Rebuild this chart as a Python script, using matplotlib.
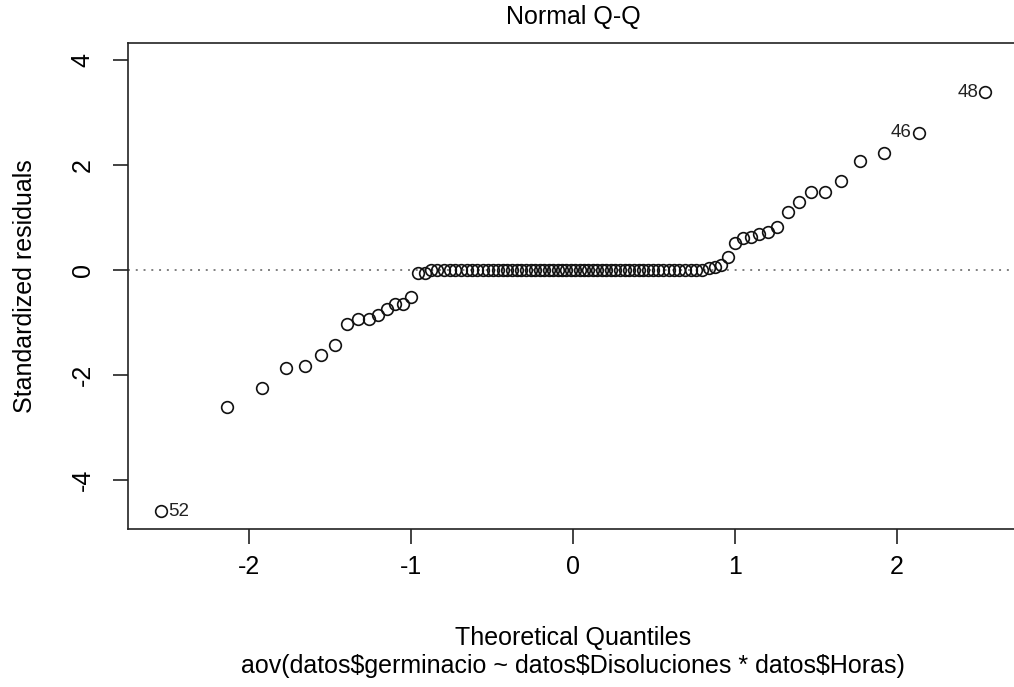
import matplotlib
matplotlib.use("Agg")
import matplotlib.pyplot as plt
import numpy as np
from statistics import NormalDist

plt.rcParams['font.family'] = ['Liberation Sans', 'DejaVu Sans']

# Sorted standardized residuals of the model (n = 92)
resid_low = [-4.60, -2.61, -2.26, -1.87, -1.83, -1.63, -1.43, -1.04, -0.94,
             -0.94, -0.85, -0.74, -0.65, -0.65, -0.51, -0.063, -0.063]
n_zero = 56
resid_high = [0.03, 0.06, 0.10, 0.25, 0.52, 0.62, 0.63, 0.69, 0.73, 0.83,
              1.10, 1.30, 1.49, 1.49, 1.70, 2.09, 2.23, 2.62, 3.39]
resid = np.array(resid_low + [0.0] * n_zero + resid_high)

# Observation ids flagged on the plot and their rank in the sorted residuals
flag_ids = ["52", "46", "48"]
flag_rank = [0, 90, 91]

xticks = [-2, -1, 0, 1, 2]
yticks = [-4, -2, 0, 2, 4]

n = len(resid)
nd = NormalDist()
theo = np.array([nd.inv_cdf((i + 0.5) / n) for i in range(n)])

W, H = 1014, 687
fig = plt.figure(figsize=(W / 100, H / 100), dpi=100)
ax = fig.add_axes([128 / W, 1 - 529 / H, (1018 - 128) / W, (529 - 43) / H])

# axis limits with 4% padding, upper limit extended for labels
xr = theo.max() - theo.min()
ax.set_xlim(theo.min() - 0.04 * xr, theo.max() + 0.04 * xr)
ylo, yhi = resid.min(), resid.max()
yhi = yhi + 0.075 * (yhi - ylo)
yr = yhi - ylo
ax.set_ylim(ylo - 0.04 * yr, yhi + 0.04 * yr)

ax.plot(theo, resid, linestyle='none', marker='o', markersize=8.4,
        markerfacecolor='none', markeredgecolor='#111111', markeredgewidth=1.2)

# reference line through the quartiles
q1, q3 = np.percentile(resid, [25, 75])
z1, z3 = nd.inv_cdf(0.25), nd.inv_cdf(0.75)
slope = (q3 - q1) / (z3 - z1)
icpt = q1 - slope * z1
xl = np.array(ax.get_xlim())
ax.plot(xl, icpt + slope * xl, color='#7f7f7f', linestyle=(0, (1, 3)),
        linewidth=1.4, zorder=0)

for lab, r in zip(flag_ids, flag_rank):
    x, y = theo[r], resid[r]
    if x < 0:
        ax.annotate(lab, (x, y), xytext=(5, 0), textcoords='offset points',
                    ha='left', va='center', fontsize=13.5, color='#222222')
    else:
        ax.annotate(lab, (x, y), xytext=(-5, 0), textcoords='offset points',
                    ha='right', va='center', fontsize=13.5, color='#222222')

ax.set_xticks(xticks)
ax.set_xticklabels([str(t) for t in xticks])
ax.set_yticks(yticks)
ax.set_yticklabels([str(t) for t in yticks], rotation=90, va='center')
ax.tick_params(axis='both', direction='out', length=11, width=1.2,
               labelsize=18, color='#222222')
ax.tick_params(axis='x', pad=8)
ax.tick_params(axis='y', pad=13)
for s in ax.spines.values():
    s.set_linewidth(1.2)
    s.set_color('#222222')
ax.spines['right'].set_visible(False)

cx = (128 + 1018) / 2 / W
fig.text(cx, 1 - 17 / H, "Normal Q-Q", ha='center', va='center', fontsize=18)
fig.text(cx, 1 - 638 / H, "Theoretical Quantiles", ha='center', va='center',
         fontsize=18)
fig.text(cx, 1 - 666 / H,
         "aov(datos$germinacio ~ datos$Disoluciones * datos$Horas)",
         ha='center', va='center', fontsize=18)
fig.text(25 / W, 1 - 286 / H, "Standardized residuals", ha='center',
         va='center', rotation=90, fontsize=18)

fig.savefig("out.png", dpi=100, facecolor='white')
